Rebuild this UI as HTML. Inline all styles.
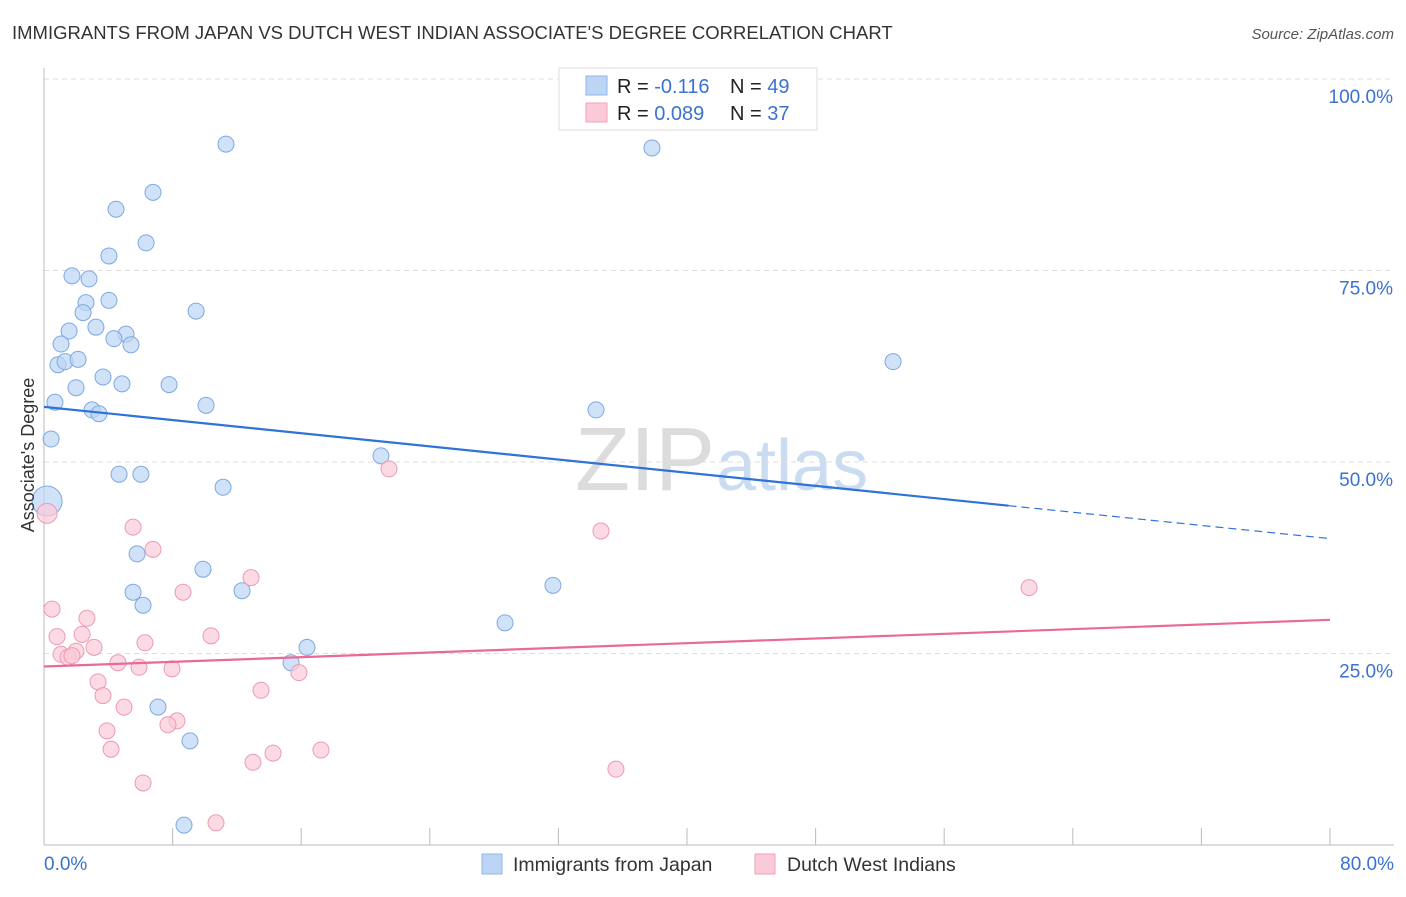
<!DOCTYPE html>
<html><head><meta charset="utf-8"><style>
body{margin:0;background:#fff;font-family:"Liberation Sans",sans-serif;}
svg text{font-family:"Liberation Sans",sans-serif;}
</style></head><body>
<svg width="1406" height="892" viewBox="0 0 1406 892">
<text x="12" y="39" font-size="18.5" fill="#333">IMMIGRANTS FROM JAPAN VS DUTCH WEST INDIAN ASSOCIATE'S DEGREE CORRELATION CHART</text>
<text x="1394" y="39" font-size="15" fill="#555" font-style="italic" text-anchor="end">Source: ZipAtlas.com</text>
<text x="715" y="490" font-size="90" fill="#dcdcdc" text-anchor="end" font-family="Liberation Serif">ZIP</text>
<text x="716" y="490" font-size="72" fill="#c9dcf2">atlas</text>
<g id="grid"></g>
<g id="axes"></g>
<g id="marks"></g>
<text x="34" y="455" font-size="18" fill="#333" text-anchor="middle" transform="rotate(-90 34 455)">Associate's Degree</text>
<g>
<rect x="559" y="68" width="258" height="62" fill="#fff" stroke="#ddd"/>
<rect x="586" y="76" width="21" height="19" fill="#bcd5f5" stroke="#8fb6ea"/>
<rect x="586" y="103" width="21" height="19" fill="#fbcad8" stroke="#f0a0b8"/>
<text x="617" y="93" font-size="20" fill="#222">R = <tspan fill="#3a72d1">-0.116</tspan></text>
<text x="730" y="93" font-size="20" fill="#222">N = <tspan fill="#3a72d1">49</tspan></text>
<text x="617" y="120" font-size="20" fill="#222">R = <tspan fill="#3a72d1">0.089</tspan></text>
<text x="730" y="120" font-size="20" fill="#222">N = <tspan fill="#3a72d1">37</tspan></text>
</g>
<g>
<rect x="482" y="854" width="20" height="20" fill="#bcd5f5" stroke="#8fb6ea"/>
<text x="513" y="871" font-size="19.5" fill="#333">Immigrants from Japan</text>
<rect x="755" y="854" width="20" height="20" fill="#fbcad8" stroke="#f0a0b8"/>
<text x="787" y="871" font-size="19.5" fill="#333">Dutch West Indians</text>
</g>
</svg>
<script>
const yTicks=[100,75,50,25];
const yTickLabels=["100.0%","75.0%","50.0%","25.0%"];
const xTickCount=10;
const xLabels=["0.0%","80.0%"];
const japanX=[11.32,37.82,6.78,4.48,6.35,4.04,1.74,2.80,2.61,4.04,9.46,2.43,1.56,3.23,5.10,4.35,5.41,1.06,0.87,1.31,2.12,3.67,1.99,4.85,7.78,0.68,10.08,2.99,3.42,34.34,0.44,20.96,4.67,6.03,0.19,11.14,52.82,5.79,9.89,31.66,5.54,12.32,6.16,28.68,16.36,15.37,7.09,9.08,8.71];
const japanY=[91.5,91.0,85.2,83.0,78.6,76.9,74.3,73.9,70.8,71.1,69.7,69.5,67.1,67.6,66.7,66.1,65.3,65.4,62.7,63.1,63.4,61.1,59.7,60.2,60.1,57.8,57.4,56.8,56.3,56.8,53.0,50.8,48.4,48.4,44.9,46.7,63.1,38.0,36.0,33.9,33.0,33.2,31.3,29.0,25.8,23.8,18.0,13.6,2.6];
const dutchX=[0.19,21.46,34.65,5.54,6.78,61.28,12.88,8.65,0.50,2.67,0.81,2.37,6.28,10.39,3.11,1.06,1.99,1.49,4.60,5.91,7.96,15.86,3.36,3.67,13.50,4.98,8.27,7.71,3.92,4.17,14.25,17.23,13.00,35.58,6.16,10.70,1.74];
const dutchY=[43.3,49.1,41.0,41.5,38.6,33.6,34.9,33.0,30.8,29.6,27.2,27.5,26.4,27.3,25.8,24.9,25.3,24.5,23.8,23.2,23.0,22.5,21.3,19.5,20.2,18.0,16.2,15.7,14.9,12.5,12.0,12.4,10.8,9.9,8.1,2.9,24.7];
const japanTrend=[[0,57.2],[60,44.3],[80,40.0]];
const dutchTrend=[[0,23.3],[80,29.4]];
const X0=44,X1=1330,Y0=845,Y100=79;
const sx=v=>X0+(v/80)*(X1-X0);
const sy=v=>Y0-(v/100)*(Y0-Y100);
const NS="http://www.w3.org/2000/svg";
function mk(tag,attrs,parent){const e=document.createElementNS(NS,tag);for(const k in attrs)e.setAttribute(k,attrs[k]);parent.appendChild(e);return e;}
const grid=document.getElementById('grid'),axes=document.getElementById('axes'),marks=document.getElementById('marks');
yTicks.forEach((t,i)=>{
 const l=mk('line',{x1:X0,x2:1394,y1:sy(t),y2:sy(t),stroke:'#ddd','stroke-dasharray':'5,4'},grid);
 
 
 const tx=mk('text',{x:1393,y:sy(t)+24,'font-size':19,fill:'#3a72d1','text-anchor':'end'},axes);
 tx.textContent=yTickLabels[i];
 
 
});
const ya=mk('line',{x1:X0,x2:X0,y1:68,y2:Y0,stroke:'#bbb'},axes);


const xa=mk('line',{x1:X0,x2:1394,y1:Y0,y2:Y0,stroke:'#bbb'},axes);


for(let i=0;i<=xTickCount;i++){
 const x=sx(i*80/xTickCount);
 const t=mk('line',{x1:x,x2:x,y1:Y0,y2:828,stroke:'#bbb'},axes);
 
 
}
const xl0=mk('text',{x:X0,y:870,'font-size':19,fill:'#3a72d1'},axes);xl0.textContent=xLabels[0];


const xl1=mk('text',{x:1394,y:870,'font-size':19,fill:'#3a72d1','text-anchor':'end'},axes);xl1.textContent=xLabels[1];


japanX.forEach((v,i)=>{
 const c=mk('circle',{cx:sx(v),cy:sy(japanY[i]),r:i===34?15:8,fill:'#bcd5f5','fill-opacity':0.7,stroke:'#7fa8e0','stroke-width':1},marks);
 
 
});
dutchX.forEach((v,i)=>{
 const c=mk('circle',{cx:sx(v),cy:sy(dutchY[i]),r:i===0?10:8,fill:'#fbcad8','fill-opacity':0.7,stroke:'#ec9ab4','stroke-width':1},marks);
 
 
});
const jl=mk('line',{x1:sx(japanTrend[0][0]),y1:sy(japanTrend[0][1]),x2:sx(japanTrend[1][0]),y2:sy(japanTrend[1][1]),stroke:'#2f72d8','stroke-width':2.2},marks);


const jd=mk('line',{x1:sx(japanTrend[1][0]),y1:sy(japanTrend[1][1]),x2:sx(japanTrend[2][0]),y2:sy(japanTrend[2][1]),stroke:'#2f72d8','stroke-width':1.2,'stroke-dasharray':'8,5'},marks);


const dl=mk('line',{x1:sx(dutchTrend[0][0]),y1:sy(dutchTrend[0][1]),x2:sx(dutchTrend[1][0]),y2:sy(dutchTrend[1][1]),stroke:'#e8699a','stroke-width':2.2},marks);


</script>
</body></html>
